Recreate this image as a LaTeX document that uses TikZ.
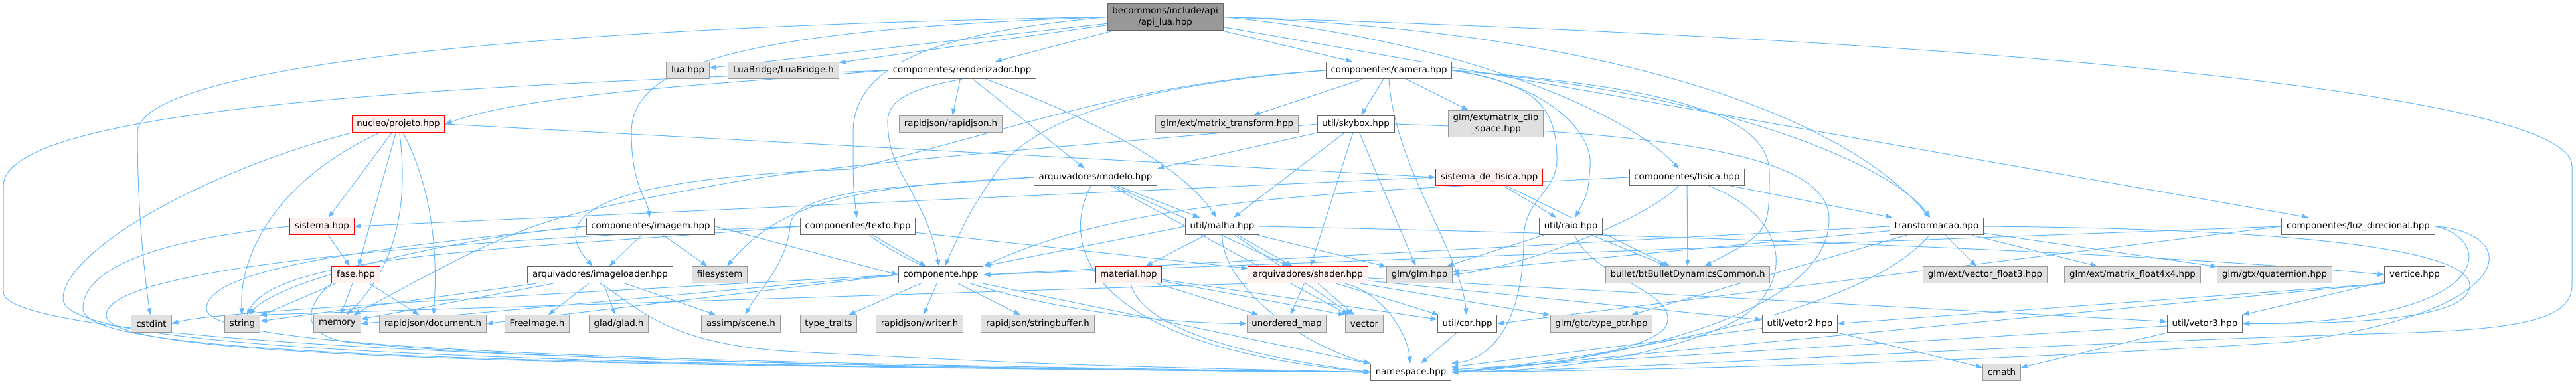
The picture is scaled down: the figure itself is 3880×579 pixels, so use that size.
\documentclass[tikz,border=0pt]{standalone}
\usepackage{fontspec}
\setmainfont{DejaVu Sans}
\usepackage{tikz}
\usetikzlibrary{arrows.meta,backgrounds}

\definecolor{edgeblue}{HTML}{63B8FF}
\definecolor{boxline}{HTML}{666666}
\definecolor{extline}{HTML}{999999}
\definecolor{extfill}{HTML}{E0E0E0}
\definecolor{partfill}{HTML}{FFF0F0}
\definecolor{mainfill}{HTML}{999999}

\begin{document}
\begin{tikzpicture}[x=0.75pt, y=-0.75pt,
  file/.style={rectangle, draw=boxline, fill=white, line width=0.75pt, minimum height=19pt, inner xsep=5.5pt, inner ysep=1pt, align=center, font=\fontsize{10}{12.5}\selectfont},
  extfile/.style={file, draw=extline, fill=extfill},
  partial/.style={file, draw=red, fill=partfill},
  mainfile/.style={file, draw=boxline, fill=mainfill, minimum height=30pt},
  incl/.style={-{Triangle[length=7.5pt, width=5.5pt]}, draw=edgeblue, line width=0.75pt}
]
\useasboundingbox (0,0) rectangle (3880,579);

\node[mainfile] (api) at (1755,25.5) {becommons/include/api\\/api\_lua.hpp};

\node[extfile] (lua) at (1036,106) {lua.hpp};
\node[extfile] (luabridge) at (1180,106) {LuaBridge/LuaBridge.h};
\node[file] (renderizador) at (1449,106) {componentes/renderizador.hpp};
\node[file] (camera) at (2092,106) {componentes/camera.hpp};

\node[partial] (projeto) at (600,187) {nucleo/projeto.hpp};
\node[extfile] (rapidjson) at (1432,187) {rapidjson/rapidjson.h};
\node[extfile] (mtransform) at (1848,187) {glm/ext/matrix\_transform.hpp};
\node[file] (skybox) at (2042,187) {util/skybox.hpp};
\node[extfile, minimum height=30pt] (mclip) at (2253,186.5) {glm/ext/matrix\_clip\\\_space.hpp};

\node[file] (modelo) at (1650,267) {arquivadores/modelo.hpp};
\node[partial] (sfisica) at (2243,267) {sistema\_de\_fisica.hpp};
\node[file] (fisica) at (2541,267) {componentes/fisica.hpp};

\node[partial] (sistema) at (485,341) {sistema.hpp};
\node[file] (imagem) at (980,341) {componentes/imagem.hpp};
\node[file] (texto) at (1292,341) {componentes/texto.hpp};
\node[file] (malha) at (1841,341) {util/malha.hpp};
\node[file] (raio) at (2366,341) {util/raio.hpp};
\node[file] (transf) at (2917,341) {transformacao.hpp};
\node[file] (luz) at (3552,341) {componentes/luz\_direcional.hpp};

\node[partial] (fase) at (536,414) {fase.hpp};
\node[file] (imgloader) at (904,414) {arquivadores/imageloader.hpp};
\node[extfile] (filesystem) at (1084,414) {filesystem};
\node[file] (componente) at (1417,414) {componente.hpp};
\node[partial] (material) at (1700,414) {material.hpp};
\node[partial] (shader) at (1970,414) {arquivadores/shader.hpp};
\node[extfile] (glm) at (2138,414) {glm/glm.hpp};
\node[extfile] (bullet) at (2542,414) {bullet/btBulletDynamicsCommon.h};
\node[extfile] (vfloat3) at (2990,414) {glm/ext/vector\_float3.hpp};
\node[extfile] (mfloat4) at (3212,414) {glm/ext/matrix\_float4x4.hpp};
\node[extfile] (quaternion) at (3426,414) {glm/gtx/quaternion.hpp};
\node[file] (vertice) at (3637,414) {vertice.hpp};

\node[extfile] (cstdint) at (228,487.5) {cstdint};
\node[extfile] (string) at (365,487.5) {string};
\node[extfile] (memory) at (508,487.5) {memory};
\node[extfile] (document) at (652,487.5) {rapidjson/document.h};
\node[extfile] (freeimage) at (809,487.5) {FreeImage.h};
\node[extfile] (glad) at (932,487.5) {glad/glad.h};
\node[extfile] (assimp) at (1116,487.5) {assimp/scene.h};
\node[extfile] (typetraits) at (1248,487.5) {type\_traits};
\node[extfile] (writer) at (1385,487.5) {rapidjson/writer.h};
\node[extfile] (strbuffer) at (1563,487.5) {rapidjson/stringbuffer.h};
\node[extfile] (umap) at (1938,487.5) {unordered\_map};
\node[extfile] (vector) at (2055,487.5) {vector};
\node[file] (cor) at (2210,487.5) {util/cor.hpp};
\node[extfile] (typeptr) at (2412,487.5) {glm/gtc/type\_ptr.hpp};
\node[file] (vetor2) at (2711,487.5) {util/vetor2.hpp};
\node[file] (vetor3) at (3321,487.5) {util/vetor3.hpp};

\node[file] (namespace) at (2125,560.7) {namespace.hpp};
\node[extfile] (cmath) at (3015,560.7) {cmath};

\begin{pgfonlayer}{background}
\draw[incl] (api) -- (lua);
\draw[incl] (api) -- (luabridge);
\draw[incl] (api) -- (renderizador);
\draw[incl] (api) -- (camera);
\draw[incl] (api) -- (luz);
\draw[incl] (api.west) .. controls (1100,45) and (951,100) .. (951,200) .. controls (951,280) and (975,300) .. (imagem);
\draw[incl] (api.west) .. controls (1400,50) and (1285,100) .. (1285,200) .. controls (1285,280) .. (texto);
\draw[incl] (api.west) .. controls (800,40) and (207,100) .. (207,200) .. controls (207,330) and (220,430) .. (cstdint);
\draw[incl] (api.east) .. controls (2200,60) and (2450,170) .. (fisica);
\draw[incl] (api.east) .. controls (2500,50) and (2800,200) .. (transf);
\draw[incl] (api.east) .. controls (3000,60) and (3874,140) .. (3874,250) -- (3874,430) .. controls (3874,480) and (3800,497) .. (3600,502) .. controls (3000,520) and (2500,555) .. (namespace.east);

\draw[incl] (renderizador) -- (rapidjson);
\draw[incl] (renderizador) -- (modelo);
\draw[incl] (renderizador) .. controls (1650,180) and (1780,250) .. (malha);
\draw[incl] (renderizador.south) .. controls (1330,140) and (1335,170) .. (1338,200) .. controls (1342,260) and (1395,300) .. (componente);
\draw[incl] (renderizador.west) .. controls (1100,125) and (800,140) .. (projeto.east);
\draw[incl] (renderizador.west) .. controls (700,128) and (5,160) .. (5,280) -- (5,440) .. controls (5,520) and (1000,552) .. (namespace.west);

\draw[incl] (camera) -- (skybox);
\draw[incl] (camera) -- (mclip);
\draw[incl] (camera) -- (mtransform);
\draw[incl] (camera.south) .. controls (2100,250) and (2200,380) .. (cor);
\draw[incl] (camera.east) .. controls (2300,125) and (2345,150) .. (2345,240) .. controls (2345,290) and (2295,300) .. (2295,360) .. controls (2295,480) and (2250,540) .. (namespace.north east);
\draw[incl] (camera.east) .. controls (2330,125) and (2400,200) .. (2395,250) .. controls (2392,290) .. (raio);
\draw[incl] (camera.east) .. controls (2600,140) and (2850,250) .. (transf);
\draw[incl] (camera.east) .. controls (2500,130) and (2665,170) .. (2665,260) .. controls (2665,350) .. (bullet);
\draw[incl] (camera.west) .. controls (1750,125) and (1560,170) .. (1500,260) .. controls (1460,320) .. (componente);
\draw[incl] (camera.west) .. controls (1700,125) and (1550,190) .. (1280,255) .. controls (880,270) and (830,330) .. (imgloader);

\draw[incl] (projeto) -- (sistema);
\draw[incl] (projeto) -- (fase);
\draw[incl] (projeto) .. controls (420,270) and (360,380) .. (string);
\draw[incl] (projeto) .. controls (615,300) and (600,400) .. (memory);
\draw[incl] (projeto) .. controls (650,280) and (660,380) .. (document);
\draw[incl] (projeto.east) -- (sfisica.west);
\draw[incl] (projeto.south west) .. controls (300,260) and (95,380) .. (95,450) .. controls (95,525) and (700,550) .. (namespace.west);

\draw[incl] (skybox.south west) -- (modelo.north east);
\draw[incl] (skybox) -- (shader);
\draw[incl] (skybox) -- (glm);
\draw[incl] (skybox) -- (malha);
\draw[incl] (skybox.west) .. controls (1700,215) and (1300,240) .. (1100,275) .. controls (800,330) .. (memory);
\draw[incl] (skybox.east) .. controls (2500,200) and (2755,230) .. (2755,330) .. controls (2755,470) and (2450,545) .. (namespace.east);

\draw[incl] (modelo) -- (malha);
\draw[incl] (modelo) -- (shader);
\draw[incl] (modelo) -- (vector);
\draw[incl] (modelo.west) .. controls (1300,280) and (1180,300) .. (filesystem);
\draw[incl] (modelo.west) .. controls (1400,280) and (1195,280) .. (1190,340) .. controls (1185,400) and (1140,440) .. (assimp);
\draw[incl] (modelo) .. controls (1600,360) and (1620,520) .. (namespace.west);

\draw[incl] (sfisica.west) -- (sistema.east);
\draw[incl] (sfisica) -- (raio);
\draw[incl] (sfisica) -- (bullet);

\draw[incl] (fisica) -- (bullet);
\draw[incl] (fisica) -- (transf);
\draw[incl] (fisica) .. controls (2480,330) and (2300,400) .. (glm.east);
\draw[incl] (fisica) .. controls (2700,330) and (2700,430) .. (2620,480) .. controls (2500,545) and (2300,560) .. (namespace.east);
\draw[incl] (fisica.west) .. controls (2000,290) and (1700,300) .. (componente.north east);

\draw[incl] (sistema) -- (fase);
\draw[incl] (sistema.west) .. controls (250,360) and (125,400) .. (125,465) .. controls (125,535) and (700,548) .. (namespace.west);

\draw[incl] (imagem) -- (imgloader);
\draw[incl] (imagem) -- (filesystem);
\draw[incl] (imagem.east) -- (componente.west);
\draw[incl] (imagem.west) .. controls (700,355) and (420,420) .. (string);
\draw[incl] (imagem.west) .. controls (600,370) and (311,400) .. (311,465) .. controls (311,525) and (900,545) .. (namespace.west);

\draw[incl] (texto) -- (componente);
\draw[incl] (texto) -- (shader);
\draw[incl] (texto.west) .. controls (800,375) and (420,380) .. (string);
\draw[incl] (texto) .. controls (1450,460) and (1750,487) .. (umap.west);
\draw[incl] (texto.west) .. controls (700,360) and (160,400) .. (160,475) .. controls (160,540) and (800,550) .. (namespace.west);

\draw[incl] (malha) -- (material);
\draw[incl] (malha) -- (shader);
\draw[incl] (malha) -- (glm);
\draw[incl] (malha) -- (vector);
\draw[incl] (malha.west) -- (componente.north east);
\draw[incl] (malha.east) .. controls (2600,355) and (3300,385) .. (vertice.west);
\draw[incl] (malha) .. controls (1840,430) and (1960,520) .. (namespace.north west);

\draw[incl] (raio) -- (glm);
\draw[incl] (raio) -- (bullet);
\draw[incl] (raio) .. controls (2400,420) and (2530,440) .. (2510,490) .. controls (2490,530) and (2300,555) .. (namespace.east);

\draw[incl] (transf) -- (vfloat3);
\draw[incl] (transf) -- (mfloat4);
\draw[incl] (transf) -- (quaternion);
\draw[incl] (transf) -- (typeptr);
\draw[incl] (transf) -- (glm);
\draw[incl] (transf.west) -- (componente.east);
\draw[incl] (transf.east) .. controls (3500,345) and (3720,380) .. (3720,430) .. controls (3720,487) and (3500,487) .. (vetor3.east);
\draw[incl] (transf) .. controls (2800,480) and (2400,540) .. (namespace.east);

\draw[incl] (luz.west) -- (componente.east);
\draw[incl] (luz.west) -- (cor.east);
\draw[incl] (luz.east) .. controls (3760,360) and (3760,487) .. (vetor3.east);
\draw[incl] (luz.east) .. controls (3800,350) and (3800,470) .. (3450,515) .. controls (3000,545) and (2500,558) .. (namespace.east);

\draw[incl] (fase) -- (string);
\draw[incl] (fase) -- (memory);
\draw[incl] (fase) -- (document);
\draw[incl] (fase.south west) .. controls (470,450) and (440,500) .. (520,515) .. controls (800,545) and (1500,555) .. (namespace.west);

\draw[incl] (imgloader) -- (freeimage);
\draw[incl] (imgloader) -- (glad);
\draw[incl] (imgloader) -- (assimp);
\draw[incl] (imgloader) -- (string);
\draw[incl] (imgloader) -- (memory);
\draw[incl] (imgloader.south) .. controls (960,460) and (1000,520) .. (1200,530) .. controls (1600,550) .. (namespace.west);

\draw[incl] (componente) -- (writer);
\draw[incl] (componente) -- (strbuffer);
\draw[incl] (componente) -- (typetraits);
\draw[incl] (componente.west) -- (document.east);
\draw[incl] (componente.west) -- (memory.east);
\draw[incl] (componente.west) .. controls (700,450) and (320,470) .. (cstdint.east);
\draw[incl] (componente) -- (namespace);

\draw[incl] (material) -- (umap);
\draw[incl] (material) -- (vector.north west);
\draw[incl] (material) -- (cor);
\draw[incl] (material) .. controls (1720,500) and (1900,540) .. (namespace.west);

\draw[incl] (shader) -- (umap);
\draw[incl] (shader) -- (vector);
\draw[incl] (shader) -- (cor);
\draw[incl] (shader) -- (typeptr);
\draw[incl] (shader) -- (vetor2);
\draw[incl] (shader) -- (vetor3);
\draw[incl] (shader.south west) -- (string.north east);
\draw[incl] (shader) .. controls (2080,440) and (2120,500) .. (namespace);

\draw[incl] (vertice.south west) -- (vetor2.east);
\draw[incl] (vertice) -- (vetor3);
\draw[incl] (vertice.south west) -- (namespace.east);

\draw[incl] (cor) -- (namespace);
\draw[incl] (vetor2) -- (cmath);
\draw[incl] (vetor2) -- (namespace);
\draw[incl] (vetor3) -- (cmath);
\draw[incl] (vetor3) -- (namespace);
\end{pgfonlayer}

\end{tikzpicture}
\end{document}
